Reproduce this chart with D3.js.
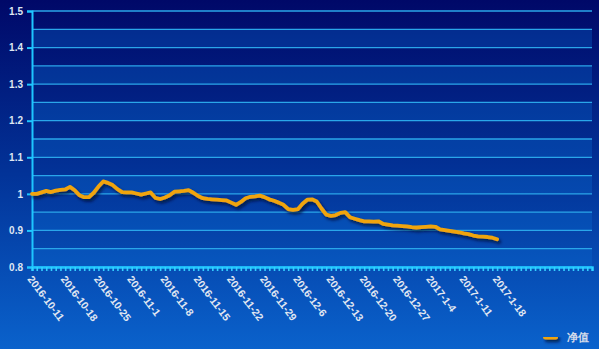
<!DOCTYPE html>
<html>
<head>
<meta charset="utf-8">
<script src="https://cdn.jsdelivr.net/npm/d3@7"></script>
<style>
  html, body { margin: 0; padding: 0; background: #0a3a9a; }
  svg { display: block; }
  text { font-family: "Liberation Sans", Arial, sans-serif; }
</style>
</head>
<body>
<svg id="chart" width="599" height="349"></svg>
<script>
// ---- data ----
const dates = [
  "2016-10-11","2016-10-12","2016-10-13","2016-10-14","2016-10-15","2016-10-16","2016-10-17",
  "2016-10-18","2016-10-19","2016-10-20","2016-10-21","2016-10-22","2016-10-23","2016-10-24",
  "2016-10-25","2016-10-26","2016-10-27","2016-10-28","2016-10-29","2016-10-30","2016-10-31",
  "2016-11-1","2016-11-2","2016-11-3","2016-11-4","2016-11-5","2016-11-6","2016-11-7",
  "2016-11-8","2016-11-9","2016-11-10","2016-11-11","2016-11-12","2016-11-13","2016-11-14",
  "2016-11-15","2016-11-16","2016-11-17","2016-11-18","2016-11-19","2016-11-20","2016-11-21",
  "2016-11-22","2016-11-23","2016-11-24","2016-11-25","2016-11-26","2016-11-27","2016-11-28",
  "2016-11-29","2016-11-30","2016-12-1","2016-12-2","2016-12-3","2016-12-4","2016-12-5",
  "2016-12-6","2016-12-7","2016-12-8","2016-12-9","2016-12-10","2016-12-11","2016-12-12",
  "2016-12-13","2016-12-14","2016-12-15","2016-12-16","2016-12-17","2016-12-18","2016-12-19",
  "2016-12-20","2016-12-21","2016-12-22","2016-12-23","2016-12-24","2016-12-25","2016-12-26",
  "2016-12-27","2016-12-28","2016-12-29","2016-12-30","2016-12-31","2017-1-2","2017-1-3",
  "2017-1-4","2017-1-5","2017-1-6","2017-1-7","2017-1-8","2017-1-9","2017-1-10",
  "2017-1-11","2017-1-12","2017-1-13","2017-1-14","2017-1-15","2017-1-16","2017-1-17",
  "2017-1-18"
];

const netValue = [
  1.000, 1.000, 1.004, 1.008, 1.005, 1.009, 1.011, 1.012, 1.019, 1.010,
  0.996, 0.991, 0.991, 1.003, 1.020, 1.034, 1.030, 1.024, 1.013, 1.005,
  1.004, 1.004, 1.001, 0.998, 1.001, 1.004, 0.989, 0.986, 0.990, 0.996,
  1.006, 1.007, 1.008, 1.010, 1.003, 0.994, 0.988, 0.986, 0.985, 0.984,
  0.983, 0.982, 0.976, 0.970, 0.978, 0.988, 0.992, 0.993, 0.995, 0.991,
  0.985, 0.981, 0.976, 0.970, 0.958, 0.956, 0.958, 0.973, 0.984, 0.985,
  0.979, 0.960, 0.943, 0.940, 0.942, 0.948, 0.950, 0.936, 0.932, 0.928,
  0.925, 0.925, 0.924, 0.925, 0.918, 0.916, 0.914, 0.913, 0.912, 0.911,
  0.909, 0.908, 0.909, 0.910, 0.911, 0.910, 0.903, 0.901, 0.899, 0.897,
  0.895, 0.892, 0.890, 0.886, 0.884, 0.883, 0.882, 0.880, 0.876
];

const seriesName = "净值";
const yTickValues = [0.8, 0.9, 1.0, 1.1, 1.2, 1.3, 1.4, 1.5];
const yGridValues = [0.8, 0.85, 0.9, 0.95, 1.0, 1.05, 1.1, 1.15, 1.2, 1.25, 1.3, 1.35, 1.4, 1.45, 1.5];
const xLabelEvery = 7;
const axisSlots = 118; // category slots spanned by the x axis

// ---- layout ----
const svg = d3.select("#chart");
const W = 599, H = 349;
const m = { left: 32, right: 7, top: 11, bottom: 82 };

const defs = svg.append("defs");
const bg = defs.append("linearGradient").attr("id", "bg").attr("x1", 0).attr("y1", 0).attr("x2", 0).attr("y2", 1);
bg.append("stop").attr("offset", "0%").attr("stop-color", "#000868");
bg.append("stop").attr("offset", "50%").attr("stop-color", "#023398");
bg.append("stop").attr("offset", "100%").attr("stop-color", "#0a62cc");

const sh = defs.append("filter").attr("id", "shadow")
  .attr("filterUnits", "userSpaceOnUse").attr("x", 0).attr("y", 0).attr("width", W).attr("height", H);
sh.append("feDropShadow").attr("dx", 2).attr("dy", 2.5).attr("stdDeviation", 1.4)
  .attr("flood-color", "#000a30").attr("flood-opacity", 0.8);

svg.append("rect").attr("width", W).attr("height", H).attr("fill", "url(#bg)");

const x = d3.scaleLinear().domain([0, axisSlots]).range([m.left, W - m.right]);
const y = d3.scaleLinear().domain([0.8, 1.5]).range([H - m.bottom, m.top]);

// alternating bands
const g = svg.append("g");
for (let i = 0; i < yGridValues.length - 1; i += 2) {
  g.append("rect")
    .attr("x", x(0)).attr("width", x(axisSlots) - x(0))
    .attr("y", y(yGridValues[i + 1])).attr("height", y(yGridValues[i]) - y(yGridValues[i + 1]))
    .attr("fill", "rgba(10,110,210,0.32)");
}
// grid lines
g.selectAll("line.grid").data(yGridValues).join("line")
  .attr("x1", x(0)).attr("x2", x(axisSlots))
  .attr("y1", d => y(d)).attr("y2", d => y(d))
  .attr("stroke", "#2aa6ea").attr("stroke-width", 1.3);

// y axis
const yAxis = d3.axisLeft(y).tickValues(yTickValues).tickSize(5).tickPadding(4)
  .tickFormat(d => String(+d.toFixed(1)));
const ya = svg.append("g").attr("transform", `translate(${m.left},0)`).call(yAxis);
ya.select(".domain").attr("stroke", "#1ec6ff").attr("stroke-width", 2);
ya.selectAll(".tick line").attr("stroke", "#1ec6ff").attr("stroke-width", 2);
ya.selectAll(".tick text").attr("fill", "#dfe6f2").attr("font-size", 10).attr("font-weight", "bold");

// x axis
const xTicks = d3.range(0, axisSlots + 1);
const xAxis = d3.axisBottom(x).tickValues(xTicks).tickSize(4).tickFormat("");
const xa = svg.append("g").attr("transform", `translate(0,${y(0.8)})`).call(xAxis);
xa.select(".domain").attr("stroke", "#1ec6ff").attr("stroke-width", 2.5);
xa.selectAll(".tick line").attr("stroke", "#35cfff").attr("stroke-width", 1.6);

// x labels
const labelIdx = d3.range(0, dates.length, xLabelEvery);
svg.append("g").selectAll("text").data(labelIdx).join("text")
  .attr("transform", i => `translate(${x(i) - 2},${y(0.8) + 10}) rotate(53)`)
  .attr("text-anchor", "start")
  .attr("dy", "0.35em")
  .attr("fill", "#e2e8f2").attr("font-size", 10.5).attr("font-weight", "bold")
  .text(i => dates[i]);

// line
const line = d3.line().x((d, i) => x(i)).y(d => y(d));
svg.append("path").datum(netValue)
  .attr("d", line).attr("fill", "none")
  .attr("stroke", "#f0a40c").attr("stroke-width", 3.8)
  .attr("stroke-linejoin", "round").attr("stroke-linecap", "round")
  .attr("filter", "url(#shadow)");

// legend
const lg = svg.append("g").attr("transform", "translate(543,337)");
lg.append("rect").attr("x", 0).attr("y", -2.5).attr("width", 15).attr("height", 5).attr("rx", 2.5)
  .attr("fill", "#f0a40c").attr("filter", "url(#shadow)");
lg.append("text").attr("x", 24).attr("y", 0).attr("dy", "0.36em")
  .attr("fill", "#d4dcea").attr("font-size", 11).attr("font-weight", "bold")
  .attr("font-family", "'Noto Sans CJK SC', sans-serif")
  .text(seriesName);
</script>
</body>
</html>
